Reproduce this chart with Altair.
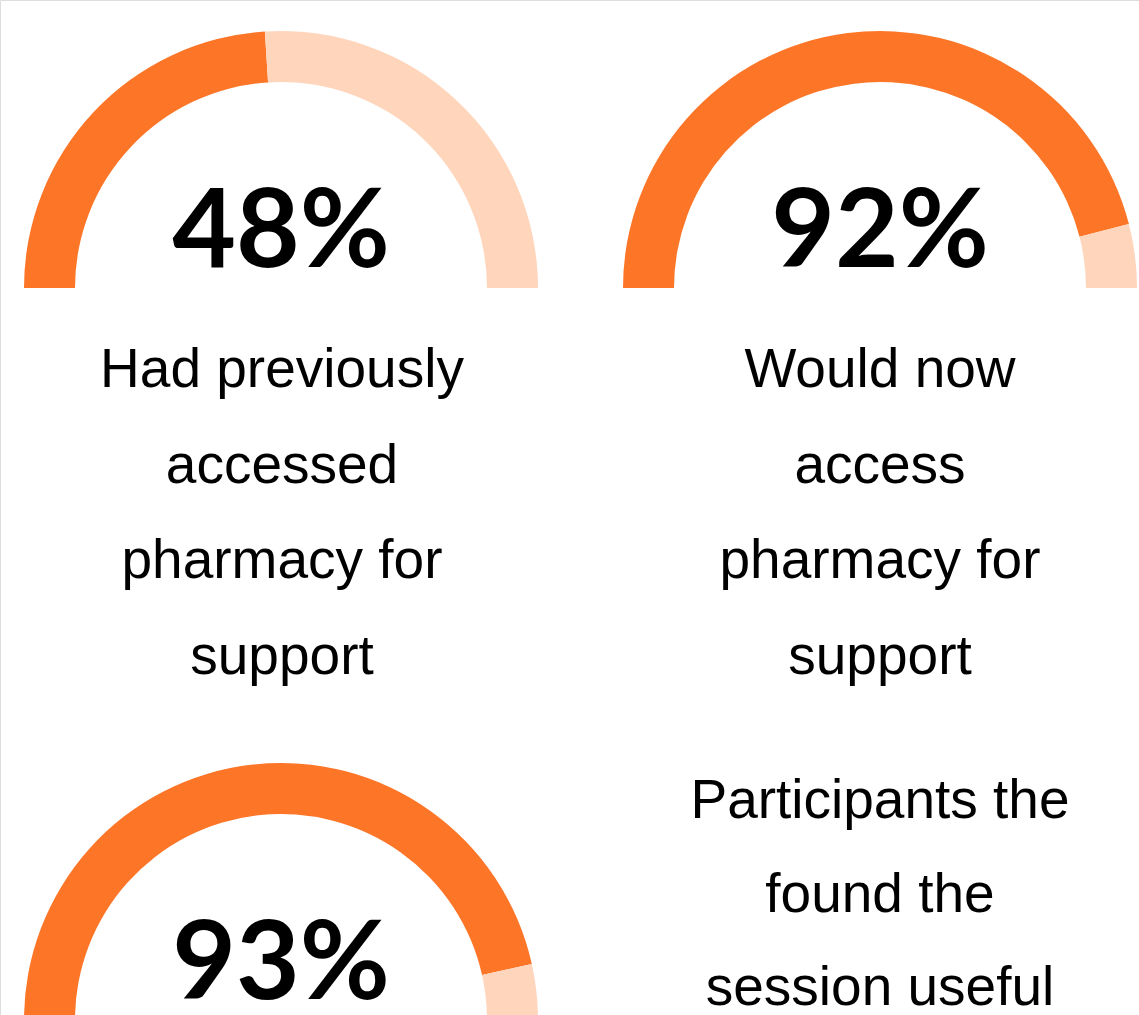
import math
import altair as alt
import pandas as pd

# ---- data ----
percent_values = [48, 92, 93]
percent_labels = ["48%", "92%", "93%"]
label_lines = [
    ["Had previously", "accessed", "pharmacy for", "support"],
    ["Would now", "access", "pharmacy for", "support"],
]
side_note_lines = ["Participants the", "found the", "session useful"]

# ---- layout constants (pixels) ----
W, H = 1139, 1015
gauge_cx = [281, 880, 281]
gauge_cy = [288, 288, 1020]
label_cx = [282, 880]
label_y0 = 387
note_cx = 880
note_y0 = 818
OUTER_R, INNER_R = 257, 206
ORANGE = "#FD7527"
PEACH = "#FFD5BB"

# gauge segments
seg_rows = []
for i, v in enumerate(percent_values):
    seg_rows.append({"g": i, "cx": gauge_cx[i], "cy": gauge_cy[i], "start": 0, "end": v, "part": "filled"})
    seg_rows.append({"g": i, "cx": gauge_cx[i], "cy": gauge_cy[i], "start": v, "end": 100, "part": "rest"})
segs = pd.DataFrame(seg_rows)

pct = pd.DataFrame({
    "label": percent_labels,
    "cx": gauge_cx,
    "cy": [c - 21 for c in gauge_cy],
})

labels = pd.DataFrame({
    "text": ["\n".join(l) for l in label_lines],
    "cx": label_cx,
    "cy": [label_y0, label_y0],
})
note = pd.DataFrame({"text": ["\n".join(side_note_lines)], "cx": [note_cx], "cy": [note_y0]})

xs = alt.Scale(domain=[0, W], range=[0, W])
ys = alt.Scale(domain=[0, H], range=[0, H])

arcs = alt.Chart(segs).mark_arc(radius=OUTER_R, radius2=INNER_R, stroke=None).encode(
    x=alt.X("cx:Q", scale=xs, axis=None),
    y=alt.Y("cy:Q", scale=ys, axis=None),
    theta=alt.Theta("start:Q", scale=alt.Scale(domain=[0, 100], range=[-math.pi / 2, math.pi / 2])),
    theta2="end:Q",
    color=alt.Color("part:N", scale=alt.Scale(domain=["filled", "rest"], range=[ORANGE, PEACH]), legend=None),
)

big = alt.Chart(pct).mark_text(
    font="Lato", fontWeight=700, fontSize=110, color="#000000",
    align="center", baseline="alphabetic",
).encode(
    x=alt.X("cx:Q", scale=xs, axis=None),
    y=alt.Y("cy:Q", scale=ys, axis=None),
    text="label:N",
)

txt = alt.Chart(labels).mark_text(
    font="Liberation Sans", fontSize=55, color="#000000",
    align="center", baseline="alphabetic", lineBreak="\n", lineHeight=95.5,
).encode(
    x=alt.X("cx:Q", scale=xs, axis=None),
    y=alt.Y("cy:Q", scale=ys, axis=None),
    text="text:N",
)

txt2 = alt.Chart(note).mark_text(
    font="Liberation Sans", fontSize=55, color="#000000",
    align="center", baseline="alphabetic", lineBreak="\n", lineHeight=93.5,
).encode(
    x=alt.X("cx:Q", scale=xs, axis=None),
    y=alt.Y("cy:Q", scale=ys, axis=None),
    text="text:N",
)

chart = alt.layer(arcs, big, txt, txt2).properties(
    width=W, height=H, padding=0, autosize=alt.AutoSizeParams(type="none"),
).configure_view(stroke=None).configure(background="#FFFFFF")

chart.save("out.html", embed_options={"renderer": "svg", "actions": False})
